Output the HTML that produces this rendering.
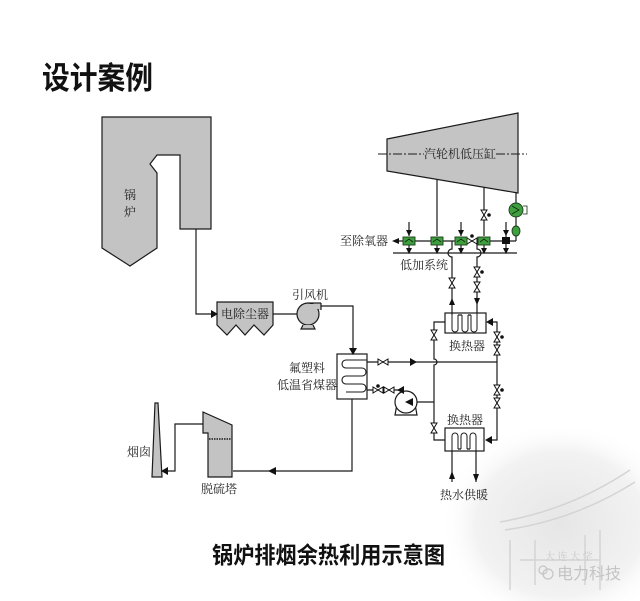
<!DOCTYPE html>
<html><head><meta charset="utf-8"><style>
html,body{margin:0;padding:0;background:#fff;}
svg{display:block;}
.l{font-family:"Liberation Serif","Noto Serif CJK SC",serif;font-size:12px;fill:#222;}
</style></head><body>
<svg width="640" height="601" viewBox="0 0 640 601" xmlns="http://www.w3.org/2000/svg">
<defs>
<radialGradient id="wm" cx="0.6" cy="0.55" r="0.6">
<stop offset="0" stop-color="#e6e6e6"/>
<stop offset="0.7" stop-color="#f2f2f2"/>
<stop offset="1" stop-color="#ffffff" stop-opacity="0"/>
</radialGradient>
</defs>
<!-- watermark -->
<rect x="440" y="430" width="200" height="171" fill="url(#wm)"/>
<g stroke="#d4d4d4" fill="none" stroke-width="1.5">
<path d="M500,522 Q570,510 630,470"/>
<path d="M505,530 Q575,520 635,482"/>
<path d="M510,540 L510,590 M600,530 L600,590 M520,560 H600"/>
<path d="M535,540 V585 M585,535 V585"/>
</g>
<text x="545" y="560" font-family="Liberation Serif,Noto Serif CJK SC,serif" font-size="10" fill="#c8c8c8">大 连 大 学</text>
<text x="557" y="579" font-family="Liberation Sans,Noto Sans CJK SC,sans-serif" font-size="16" fill="#c4c4c4">电力科技</text>
<circle cx="548" cy="574" r="5" fill="none" stroke="#c4c4c4" stroke-width="1.2"/>
<circle cx="543" cy="570" r="4" fill="none" stroke="#c4c4c4" stroke-width="1.2"/>

<!-- titles -->
<text x="42" y="89" font-family="Liberation Sans,Noto Sans CJK SC,sans-serif" font-weight="bold" font-size="31" fill="#111" textLength="111" lengthAdjust="spacingAndGlyphs">设计案例</text>
<text x="212" y="563" font-family="Liberation Sans,Noto Sans CJK SC,sans-serif" font-weight="bold" font-size="23" fill="#111" textLength="233" lengthAdjust="spacingAndGlyphs">锅炉排烟余热利用示意图</text>

<g stroke="#1a1a1a" stroke-width="1.2" fill="none">
<!-- boiler -->
<polygon points="102,117 211,117 211,229 180,229 180,155 157,155 150,164 157,173 157,248 130,266 102,248" fill="#c3c3c3"/>
<!-- flue to ESP -->
<path d="M196,229 V314 H214"/>
<!-- ESP -->
<path d="M217,302 H273 V325 L264,335 L254,325 L245,335 L236,325 L227,335 L217,325 Z" fill="#c3c3c3"/>
<path d="M273,314 H297"/>
<!-- fan -->
<rect x="307" y="303" width="14" height="7" fill="#c3c3c3" stroke="none"/>
<path d="M321,303 V310"/>
<path d="M308,303 H321" />
<circle cx="308" cy="314" r="11" fill="#c3c3c3"/>
<rect x="307" y="304" width="13" height="5" fill="#c3c3c3" stroke="none"/>
<path d="M303,325 L301,329 H315 L313,325" fill="#c3c3c3"/>
<path d="M321,306 H353 V350"/>
<!-- economizer -->
<rect x="337" y="354" width="30" height="45" fill="#fff"/>
<path d="M367,360 H346 a4,4 0 0 0 0,8 H362 a4,4 0 0 1 0,8 H346 a4,4 0 0 0 0,8 H362 a4,4 0 0 1 0,8 H346" stroke-width="1.1"/>
<path d="M352,399 V471 H233"/>
<!-- desulfurization tower -->
<polygon points="203,412 232,425 232,477 208,477 208,433 203,433" fill="#c3c3c3"/>
<path d="M209,439 H231" stroke-dasharray="1.5 1" stroke-width="1.6"/>
<path d="M203,424 H175 V471 H164"/>
<!-- chimney -->
<polygon points="155,403 158,403 162,477 152,477" fill="#c3c3c3"/>

<!-- turbine -->
<polygon points="387,139 518,113 518,193 387,171" fill="#c4c4c4"/>
<path d="M378,154 H424 M496,154 H527" stroke-dasharray="9 2 2 2" stroke-width="0.9"/>
<!-- extraction lines -->
<path d="M437,179 V236"/>
<path d="M484,187 V236"/>
<path d="M516,193 V203 M516,217 V226 M516,236 V241"/>
<path d="M409,222 V236 M461,222 V236 M506,222 V253"/>
<!-- headers -->
<path d="M397,241 H516"/>
<path d="M393,253 H517"/>
<path d="M409,245 V250 M437,245 V250 M461,245 V250 M484,245 V250"/>
<!-- lines to upper HX -->
<path d="M452,241 V249 a3,3 0 0 0 0,8 V313"/>
<path d="M477,241 V249 a3,3 0 0 1 0,8 V313"/>
<!-- upper HX -->
<rect x="445" y="313" width="41" height="20" fill="#fff"/>
<path d="M452,313 V329 a3,3 0 0 0 6,0 V315 M462,315 V329 a3,3 0 0 0 6,0 V315 M471,315 V329 a3,3 0 0 0 6,0 V313" stroke-width="1"/>
<path d="M452,315 V313 M458,315 H462 M468,315 H471"/>
<path d="M445,322 H434 V359 a3,3 0 0 1 0,6 V440 H445"/>
<path d="M489,322 H497 V440 H487"/>
<path d="M367,362 H497"/>
<path d="M367,390 H398"/>
<path d="M417,402 H434"/>
<!-- pump -->
<path d="M399,393 L395,415 H417 L413,393" fill="#fff"/>
<circle cx="406" cy="402" r="11" fill="#fff"/>
<path d="M398,390 Q402,391 404,391"/>
<!-- lower HX -->
<rect x="445" y="428" width="39" height="23" fill="#fff"/>
<path d="M452,451 V436 a3,3 0 0 1 6,0 V449 M461,449 V436 a3,3 0 0 1 6,0 V449 M470,449 V436 a3,3 0 0 1 6,0 V451" stroke-width="1"/>
<path d="M458,449 H461 M467,449 H470"/>
<path d="M452,451 V482 M476,451 V482"/>
</g>

<!-- arrowheads -->
<g fill="#111">
<polygon points="211,310 218,314 211,318"/>
<polygon points="349,348 357,348 353,355"/>
<polygon points="276,467 276,475 268,471"/>
<polygon points="168,467 168,475 161,471"/>
<polygon points="399,238 399,244 392,241"/>
<polygon points="406,230 412,230 409,236"/>
<polygon points="458,230 464,230 461,236"/>
<polygon points="503,230 509,230 506,236"/>
<polygon points="406,248 412,248 409,254"/>
<polygon points="434,248 440,248 437,254"/>
<polygon points="458,248 464,248 461,254"/>
<polygon points="481,248 487,248 484,254"/>
<polygon points="503,248 509,248 506,254"/>
<polygon points="449,305 455,305 452,298"/>
<polygon points="474,298 480,298 477,305"/>
<polygon points="493,318 493,326 486,322"/>
<polygon points="410,358 410,366 417,362"/>
<polygon points="404,386 404,394 397,390"/>
<polygon points="413,398 413,406 405,402"/>
<polygon points="492,436 492,444 485,440"/>
<polygon points="449,479 455,479 452,471"/>
<polygon points="473,474 479,474 476,482"/>
</g>

<!-- valves -->
<g fill="#fff" stroke="#111" stroke-width="1">
<!-- horizontal -->
<path d="M467,238 V244 L477,238 V244 Z"/>
<path d="M378,359 V365 L388,359 V365 Z"/>
<path d="M373,387 V393 L383,387 V393 Z"/>
<path d="M384,387 V393 L394,387 V393 Z"/>
<!-- vertical -->
<path d="M481,210 H487 L481,220 H487 Z"/>
<path d="M449,278 H455 L449,288 H455 Z"/>
<path d="M474,267 H480 L474,277 H480 Z"/>
<path d="M474,282 H480 L474,292 H480 Z"/>
<path d="M431,330 H437 L431,340 H437 Z"/>
<path d="M494,332 H500 L494,342 H500 Z"/>
<path d="M494,345 H500 L494,355 H500 Z"/>
<path d="M494,385 H500 L494,395 H500 Z"/>
<path d="M494,398 H500 L494,408 H500 Z"/>
<path d="M431,423 H437 L431,433 H437 Z"/>
</g>
<g fill="#111">
<circle cx="472" cy="236" r="1.8"/>
<circle cx="489" cy="215" r="1.8"/>
<circle cx="482" cy="272" r="1.8"/>
<circle cx="502" cy="337" r="1.8"/>
<circle cx="502" cy="390" r="1.8"/>
<circle cx="378" cy="386" r="1.8"/>
<rect x="502" y="237" width="8" height="7"/>
</g>
<!-- green heaters -->
<g fill="#3f9f3f" stroke="#1c3c1c" stroke-width="0.9">
<rect x="403" y="237" width="12" height="8"/>
<rect x="431" y="237" width="12" height="8"/>
<rect x="455" y="237" width="12" height="8"/>
<rect x="478" y="237" width="12" height="8"/>
<circle cx="516" cy="210" r="7"/>
<ellipse cx="516" cy="231" rx="4" ry="5"/>
</g>
<g stroke="#0e2a0e" stroke-width="0.8" fill="none">
<path d="M405,242 L409,239 L413,242 M433,242 L437,239 L441,242 M457,242 L461,239 L465,242 M480,242 L484,239 L488,242"/>
<path d="M512,206 L519,210 L512,214 M523,206 H527 V214 H523"/>
</g>

<!-- labels -->
<text class="l" x="130" y="199" text-anchor="middle" fill="#444">锅</text>
<text class="l" x="130" y="216" text-anchor="middle" fill="#444">炉</text>
<text class="l" x="245" y="318" text-anchor="middle">电除尘器</text>
<text class="l" x="310" y="299" text-anchor="middle">引风机</text>
<text class="l" x="307" y="372" text-anchor="middle">氟塑料</text>
<text class="l" x="307" y="389" text-anchor="middle">低温省煤器</text>
<text class="l" x="219" y="493" text-anchor="middle">脱硫塔</text>
<text class="l" x="139" y="456" text-anchor="middle">烟囱</text>
<text class="l" x="460" y="158" text-anchor="middle">汽轮机低压缸</text>
<text class="l" x="364" y="245" text-anchor="middle">至除氧器</text>
<text class="l" x="424" y="269" text-anchor="middle">低加系统</text>
<text class="l" x="467" y="350" text-anchor="middle">换热器</text>
<text class="l" x="465" y="424" text-anchor="middle">换热器</text>
<text class="l" x="464" y="499" text-anchor="middle">热水供暖</text>
</svg>
</body></html>
